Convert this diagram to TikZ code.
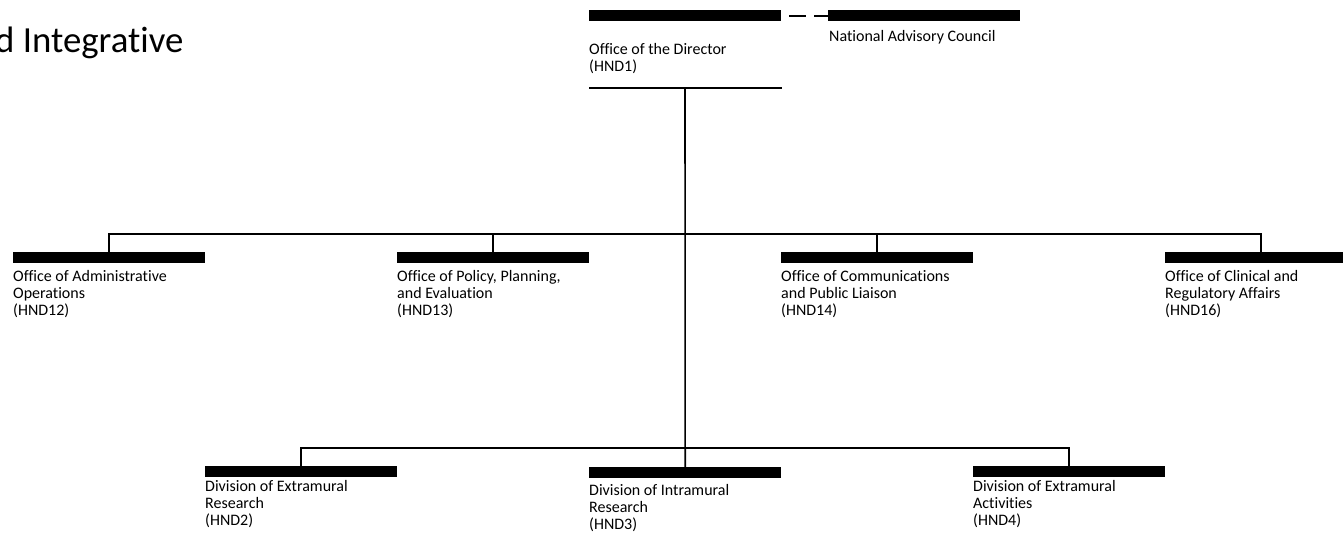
\documentclass[tikz,border=0pt]{standalone}
\usepackage{fontspec}
\setmainfont[Ligatures={NoCommon}]{Carlito}
\newcommand\orglblfont{\fontsize{16}{16.7}\selectfont\lineskiplimit=-100pt\relax}
\begin{document}
\begin{tikzpicture}[x=1pt,y=-1pt,
  bar/.style={rectangle,fill=black,draw=none,minimum width=192pt,minimum height=11pt,inner sep=0pt,anchor=north west},
  lbl/.style={anchor=north west,inner sep=0pt,align=left,font=\orglblfont},
  conn/.style={line width=1.6pt,line cap=butt},
  dashconn/.style={line width=2pt,dash pattern=on 0pt off 8pt on 17pt off 8pt on 40pt}]
\useasboundingbox (0,0) rectangle (1343,537);
\clip (0,0) rectangle (1343,537);
% title fragment
\node[anchor=base west,inner sep=0pt,font=\fontsize{36.8}{40}\selectfont] (title) at (-5,53) {d Integrative};
% director
\node[bar] (dirbar) at (589,10) {};
\node[lbl] (dirtxt) at (589,43) {Office of the Director\\(HND1)};
\coordinate (dl) at (589,88);
\coordinate (dr) at (782,88);
\coordinate (dm) at (685,88);
\draw[conn] (dl) -- (dr);
% national advisory council
\node[bar] (nacbar) at (828,10) {};
\node[lbl] (nactxt) at (829,30.5) {National Advisory Council};
\draw[dashconn] (dirbar.east) -- (nacbar.west);
% level 2
\node[bar] (admbar) at (13,252) {};
\node[lbl] (admtxt) at (13,270.5) {Office of Administrative\\Operations\\(HND12)};
\node[bar] (polbar) at (397,252) {};
\node[lbl] (poltxt) at (397,270.5) {Office of Policy, Planning,\\and Evaluation\\(HND13)};
\node[bar] (combar) at (781,252) {};
\node[lbl] (comtxt) at (781,270.5) {Office of Communications\\and Public Liaison\\(HND14)};
\node[bar] (clibar) at (1165,252) {};
\node[lbl] (clitxt) at (1165,270.5) {Office of Clinical and\\Regulatory Affairs\\(HND16)};
\coordinate (hub2) at (685,234);
\draw[conn] (admbar.north) |- (hub2) -| (clibar.north);
\draw[conn] (polbar.north) -- (polbar.north |- hub2);
\draw[conn] (combar.north) -- (combar.north |- hub2);
% level 3
\node[bar] (extbar) at (205,465.5) {};
\node[lbl] (exttxt) at (205,480.5) {Division of Extramural\\Research\\(HND2)};
\node[bar] (intbar) at (589,467) {};
\node[lbl] (inttxt) at (589,484.5) {Division of Intramural\\Research\\(HND3)};
\node[bar] (actbar) at (973,465.5) {};
\node[lbl] (acttxt) at (973,480.5) {Division of Extramural\\Activities\\(HND4)};
\coordinate (hub3) at (685,448);
\draw[conn] (extbar.north) |- (hub3) -| (actbar.north);
\draw[conn] (dm) -- (intbar.north);
\end{tikzpicture}
\end{document}
